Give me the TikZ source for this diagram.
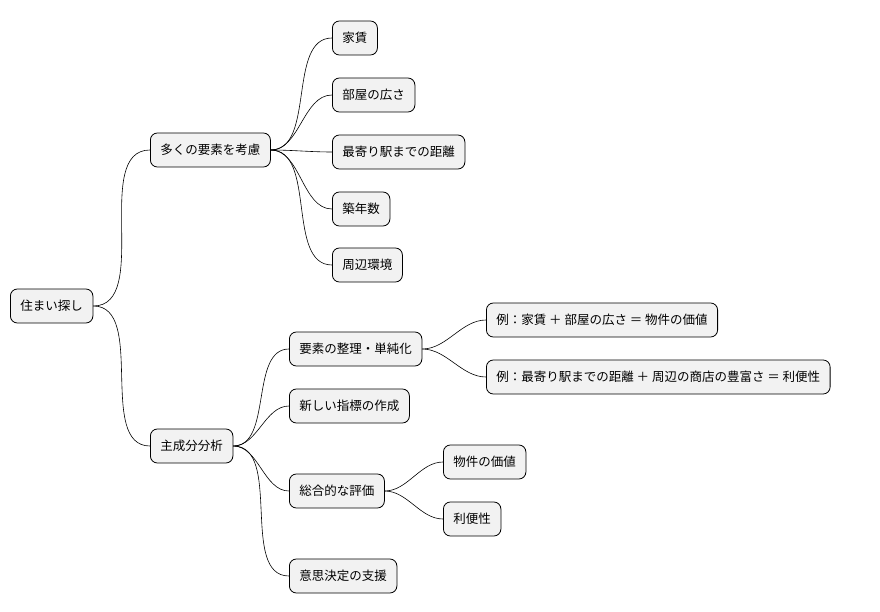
\documentclass[tikz,border=0pt]{standalone}
\usepackage{fontspec}
\setmainfont{Noto Sans CJK JP}
\usetikzlibrary{positioning}

\tikzset{
  topic/.style={draw, fill=gray!10, rounded corners=7pt, line width=0.8pt, anchor=west,
    minimum height=34pt, inner xsep=10pt, font=\fontsize{12.5}{14}\selectfont},
  branch/.style={line width=0.6pt, out=0, in=180, looseness=0.9}
}

\begin{document}
\begin{tikzpicture}[x=1pt, y=-1pt]
        \useasboundingbox (0,0) rectangle (880,612);

        \node [topic] (root) at (10,306) {住まい探し};

        \node [topic] (many) at (150,150) {多くの要素を考慮};
        \node [topic] (rent) at (332,38) {家賃};
        \node [topic] (size) at (332,95) {部屋の広さ};
        \node [topic] (dist) at (332,152) {最寄り駅までの距離};
        \node [topic] (age) at (332,209) {築年数};
        \node [topic] (env) at (332,265) {周辺環境};

        \node [topic] (pca) at (150,446) {主成分分析};
        \node [topic] (simp) at (289,349) {要素の整理・単純化};
        \node [topic] (ex1) at (486,320) {例：家賃 ＋ 部屋の広さ ＝ 物件の価値};
        \node [topic] (ex2) at (486,377) {例：最寄り駅までの距離 ＋ 周辺の商店の豊富さ ＝ 利便性};
        \node [topic] (index) at (289,406) {新しい指標の作成};
        \node [topic] (eval) at (289,491) {総合的な評価};
        \node [topic] (value) at (443,462) {物件の価値};
        \node [topic] (conv) at (443,519) {利便性};
        \node [topic] (decide) at (289,576) {意思決定の支援};

        \foreach \a/\b in {root/many, root/pca,
                many/rent, many/size, many/dist, many/age, many/env,
                pca/simp, pca/index, pca/eval, pca/decide,
                simp/ex1, simp/ex2, eval/value, eval/conv}
            \draw [branch] (\a.east) to (\b.west);
    \end{tikzpicture}
\end{document}
